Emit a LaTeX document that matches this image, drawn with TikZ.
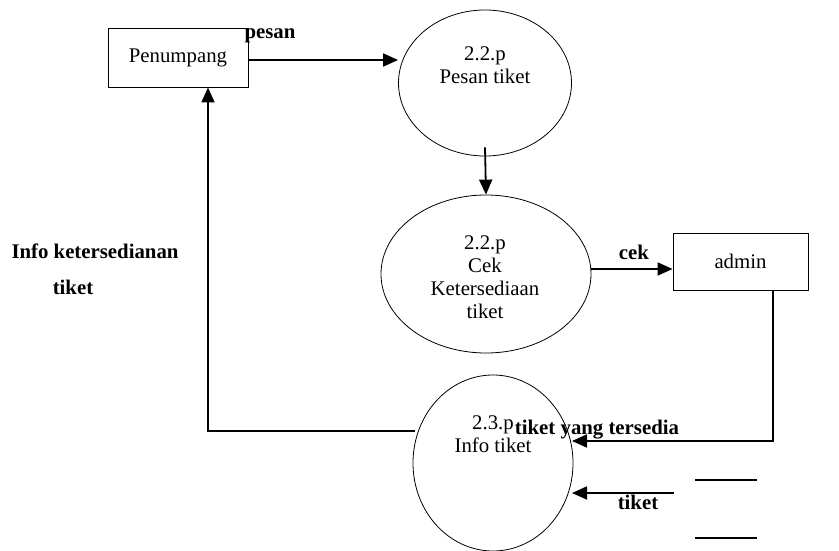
\documentclass[tikz,border=0pt]{standalone}
\usepackage{fontspec}
\setmainfont{Liberation Serif}
\usetikzlibrary{shapes.geometric,arrows.meta}
\begin{document}
\begin{tikzpicture}[x=1pt,y=-1pt,
  font=\fontsize{20.8}{23}\selectfont,
  entity/.style={draw,line width=0.9pt,inner sep=0pt},
  proc/.style={draw,ellipse,line width=0.8pt,inner sep=0pt},
  flow/.style={line width=1.8pt,-{Triangle[length=15pt,width=13pt]}},
  lbl/.style={font=\fontsize{20.8}{23}\selectfont\bfseries}]
\useasboundingbox (0,0) rectangle (839,551);

\node[entity,minimum width=140pt,minimum height=59pt] (pen) at (178,57.5) {Penumpang};
\node[entity,minimum width=135pt,minimum height=57pt] (adm) at (740.5,261.5) {admin};

\node[proc,minimum width=173pt,minimum height=146pt] (p1) at (485,83) {};
\node[proc,minimum width=210pt,minimum height=158pt] (p2) at (486,274) {};
\node[proc,minimum width=160pt,minimum height=176pt] (p3) at (493,463) {};

\node[align=center] (t1) at (485,65.5) {2.2.p\\Pesan tiket};
\node[align=center] (t2) at (485,277) {2.2.p\\Cek\\Ketersediaan\\tiket};
\node[align=center] (t3) at (493,434.5) {2.3.p\\Info tiket};

% data store
\draw[line width=1.8pt] (695,480) -- (757,480);
\draw[line width=1.8pt] (695,538) -- (757,538);

\coordinate (inA) at (572,441);
\coordinate (inB) at (572,493);
\coordinate (dsOut) at (674,493);
\coordinate (outA) at (415,431);

\draw[flow] ([yshift=-2.5pt]pen.east) -- ([yshift=-2.5pt]pen.east -| p1.west);
\draw[flow] ([yshift=9pt]p1.south) -- (p2.north);
\draw[flow] ([yshift=5pt]p2.east) -- ([yshift=5pt]p2.east -| adm.west);
\draw[flow] ([xshift=32.5pt]adm.south) |- (inA);
\draw[flow] (dsOut) -- (inB);
\draw[flow] (outA) -| ([xshift=30pt]pen.south);

\node[lbl] (lpesan) at (270,36) {pesan};
\node[lbl] (lcek) at (634,252) {cek};
\node[lbl] (ltersedia) at (597,430) {tiket yang tersedia};
\node[lbl] (ltiket) at (638,502) {tiket};
\node[lbl] (linfo) at (95,251) {Info ketersedianan};
\node[lbl] (linfo2) at (73,287) {tiket};
\end{tikzpicture}
\end{document}
